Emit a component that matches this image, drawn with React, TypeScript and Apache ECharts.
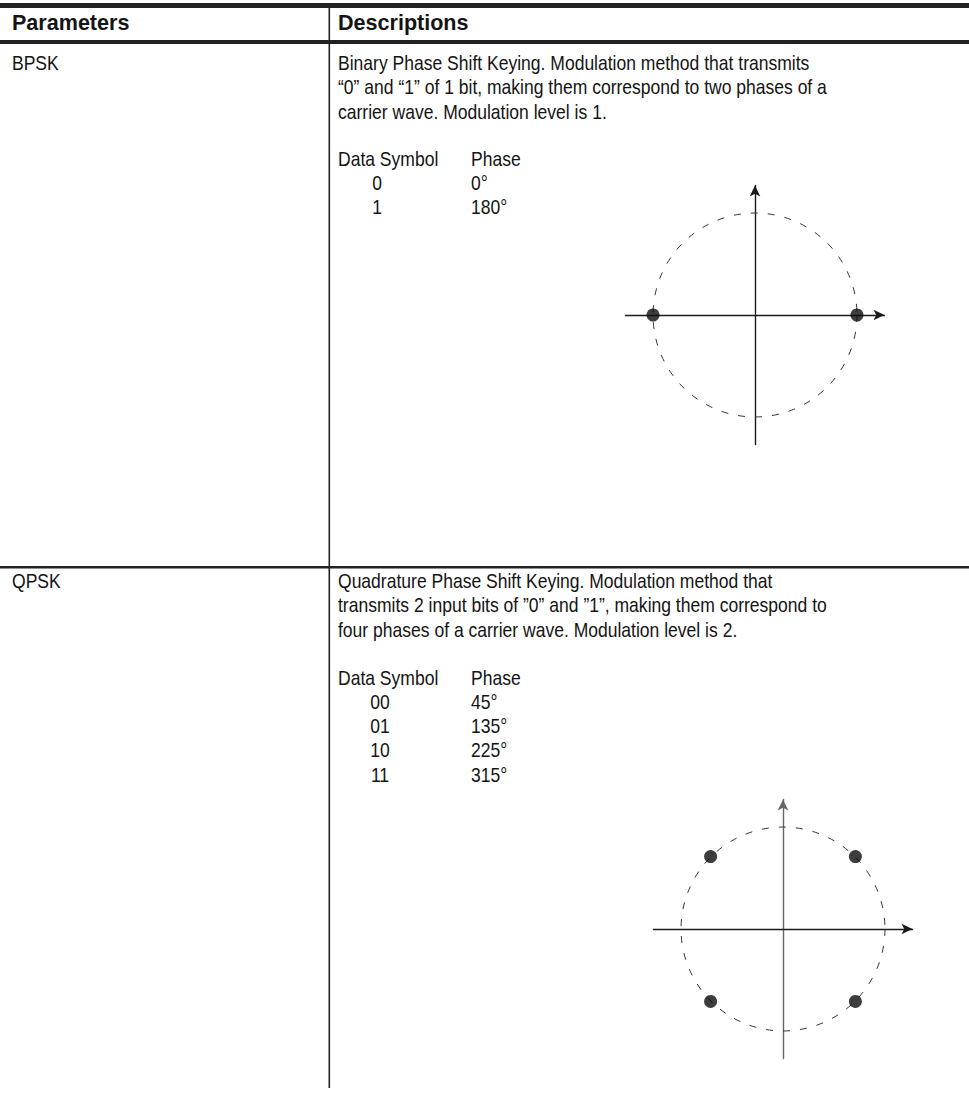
import React, { useEffect, useRef } from "react";
import * as echarts from "echarts";

const headers = ["Parameters", "Descriptions"];
const parameters = ["BPSK", "QPSK"];
const descriptions = [
  [
    "Binary Phase Shift Keying. Modulation method that transmits",
    "\u201C0\u201D and \u201C1\u201D of 1 bit, making them correspond to two phases of a",
    "carrier wave. Modulation level is 1.",
  ],
  [
    "Quadrature Phase Shift Keying. Modulation method that",
    "transmits 2 input bits of \u201D0\u201D and \u201D1\u201D, making them correspond to",
    "four phases of a carrier wave. Modulation level is 2.",
  ],
];
const symbolHeader = "Data Symbol";
const phaseHeader = "Phase";
const bpskSymbols = ["0", "1"];
const bpskPhases = ["0\u00B0", "180\u00B0"];
const qpskSymbols = ["00", "01", "10", "11"];
const qpskPhases = ["45\u00B0", "135\u00B0", "225\u00B0", "315\u00B0"];
// constellation points (I, Q)
const bpskPoints = [
  [1, 0],
  [-1, 0],
];
const qpskPoints = [
  [0.71, 0.71],
  [-0.71, 0.71],
  [-0.71, -0.71],
  [0.71, -0.71],
];
const unitCircle = [[0, 0, 1]];

const FONT = "'Liberation Sans', Arial, sans-serif";
const INK = "#141414";

export default function App() {
  const ref = useRef<HTMLDivElement>(null);
  useEffect(() => {
    document.body.style.margin = "0";
    const chart = echarts.init(ref.current!, null, { renderer: "svg" });

    const W = 969;
    const txt = (x: number, y: number, s: string, opts: any = {}) => ({
      type: "text",
      x,
      y,
      scaleX: opts.bold ? 0.98 : 0.835,
      style: {
        text: s,
        fill: INK,
        font: `${opts.bold ? "bold " : ""}${opts.bold ? 22 : 21}px ${FONT}`,
        textAlign: opts.align || "left",
        textVerticalAlign: "middle",
      },
    });
    const hline = (y: number, h: number) => ({
      type: "rect",
      shape: { x: 0, y, width: W, height: h },
      style: { fill: "#222" },
    });

    const graphics: any[] = [
      hline(3, 5),
      hline(40, 4),
      hline(566, 2.5),
      {
        type: "rect",
        shape: { x: 328.5, y: 3, width: 1.6, height: 1085 },
        style: { fill: "#222" },
      },
      txt(12, 22, headers[0], { bold: true }),
      txt(338, 22, headers[1], { bold: true }),
    ];

    const rowY = [62, 580];
    rowY.forEach((y0, i) => {
      graphics.push(txt(12, y0, parameters[i]));
      descriptions[i].forEach((line, j) => {
        graphics.push(txt(338, y0 + j * 24.5, line));
      });
    });

    const tableBlock = (y0: number, syms: string[], phs: string[], symX: number) => {
      graphics.push(txt(338, y0, symbolHeader));
      graphics.push(txt(471, y0, phaseHeader));
      syms.forEach((s, k) => {
        graphics.push(txt(symX, y0 + (k + 1) * 24.3, s, { align: "center" }));
        graphics.push(txt(471, y0 + (k + 1) * 24.3, phs[k]));
      });
    };
    tableBlock(158, bpskSymbols, bpskPhases, 377);
    tableBlock(677, qpskSymbols, qpskPhases, 380);

    const R = 1.27;
    const half = 129.5;
    const centers = [
      [755, 315],
      [783, 929],
    ];
    const grids = centers.map(([cx, cy]) => ({
      left: cx - half,
      top: cy - half,
      width: half * 2,
      height: half * 2,
      containLabel: false,
    }));

    const axisBase = (gi: number, color: string) => ({
      type: "value",
      gridIndex: gi,
      min: -R,
      max: R,
      axisLine: {
        show: true,
        onZero: true,
        symbol: ["none", "arrow"],
        symbolSize: [8, 11],
        symbolOffset: [0, 0],
        lineStyle: { color, width: 1.4 },
      },
      axisTick: { show: false },
      axisLabel: { show: false },
      splitLine: { show: false },
    });

    const circleSeries = (gi: number) => ({
      type: "custom",
      xAxisIndex: gi,
      yAxisIndex: gi,
      data: unitCircle,
      silent: true,
      renderItem: (params: any, api: any) => {
        const c = api.coord([api.value(0), api.value(1)]);
        const r = api.size([api.value(2), 0])[0];
        return {
          type: "circle",
          shape: { cx: c[0], cy: c[1], r },
          style: { fill: "none", stroke: "#333", lineWidth: 1, lineDash: [7, 10] },
        };
      },
      z: 1,
    });

    const dotSeries = (gi: number, data: number[][]) => ({
      type: "scatter",
      xAxisIndex: gi,
      yAxisIndex: gi,
      data,
      symbol: "circle",
      symbolSize: 13,
      itemStyle: { color: "#0d0d0d" },
      z: 5,
    });

    chart.setOption({
      animation: false,
      backgroundColor: "#ffffff",
      grid: grids,
      xAxis: [axisBase(0, "#1a1a1a"), axisBase(1, "#1a1a1a")],
      yAxis: [axisBase(0, "#1a1a1a"), axisBase(1, "#666")],
      series: [
        circleSeries(0),
        dotSeries(0, bpskPoints),
        circleSeries(1),
        dotSeries(1, qpskPoints),
      ],
      graphic: graphics,
    });
    return () => chart.dispose();
  }, []);
  return <div ref={ref} style={{ width: 969, height: 1097 }} />;
}
